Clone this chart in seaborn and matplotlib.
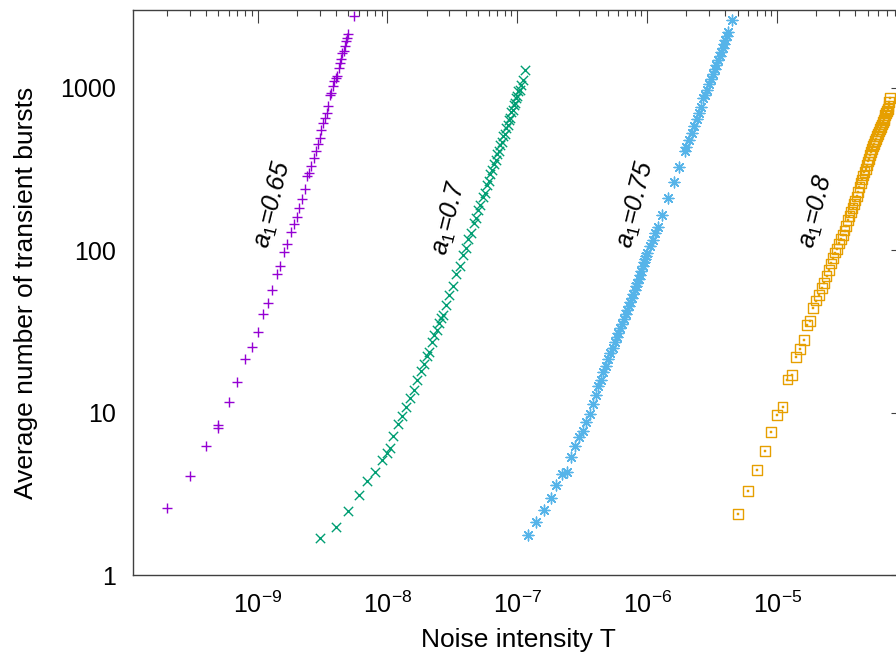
import matplotlib
matplotlib.use("Agg")
import matplotlib.pyplot as plt
import seaborn as sns
import pandas as pd
from matplotlib.ticker import LogLocator, FixedLocator, FixedFormatter, NullFormatter

# ---- data: average number of transient bursts vs noise intensity T ----
a065_T = [2e-10, 3e-10, 4e-10, 5e-10, 5e-10, 6e-10, 7e-10, 8e-10, 9e-10, 1.0e-9,
          1.1e-9, 1.2e-9, 1.3e-9, 1.4e-9, 1.5e-9, 1.6e-9, 1.7e-9, 1.8e-9, 1.9e-9, 2.0e-9,
          2.1e-9, 2.2e-9, 2.3e-9, 2.4e-9, 2.5e-9, 2.6e-9, 2.7e-9, 2.8e-9, 2.9e-9, 3.0e-9,
          3.1e-9, 3.2e-9, 3.3e-9, 3.4e-9, 3.5e-9, 3.6e-9, 3.7e-9, 3.8e-9, 3.9e-9, 4.0e-9,
          4.1e-9, 4.2e-9, 4.3e-9, 4.4e-9, 4.5e-9, 4.6e-9, 4.7e-9, 4.8e-9, 4.9e-9, 5.0e-9,
          5.5e-9]
a065_N = [2.6, 4.1, 6.2, 8.4, 8.1, 11.6, 15.5, 21.5, 25.3, 31.3,
          40.6, 47.3, 57, 71.6, 79.4, 98, 109, 129, 144, 160,
          182, 205, 239, 284, 300, 328, 370, 405, 447, 490,
          552, 607, 652, 700, 767, 906, 929, 1021, 1096, 1148,
          1175, 1324, 1422, 1489, 1637, 1675, 1799, 1932, 2023, 2123,
          2754]

a070_T = [3e-9, 4e-9, 5e-9, 6e-9, 7e-9, 8e-9, 9e-9, 1.0e-8, 1.05e-8,
          1.1e-8, 1.2e-8, 1.3e-8, 1.4e-8, 1.5e-8, 1.6e-8, 1.7e-8, 1.8e-8, 1.9e-8, 2.0e-8,
          2.1e-8, 2.2e-8, 2.3e-8, 2.4e-8, 2.5e-8, 2.6e-8, 2.7e-8, 2.8e-8,
          3.0e-8, 3.2e-8, 3.4e-8, 3.6e-8, 3.8e-8, 4.0e-8, 4.2e-8, 4.4e-8, 4.6e-8, 4.8e-8,
          5.0e-8, 5.2e-8, 5.4e-8, 5.6e-8, 5.8e-8, 6.0e-8, 6.2e-8, 6.4e-8, 6.6e-8, 6.8e-8,
          7.0e-8, 7.2e-8, 7.4e-8, 7.6e-8, 7.8e-8, 8.0e-8, 8.2e-8, 8.4e-8, 8.6e-8, 8.8e-8,
          9.0e-8, 9.2e-8, 9.4e-8, 9.6e-8, 9.8e-8, 1.0e-7, 1.02e-7, 1.04e-7, 1.06e-7,
          1.1e-7, 1.15e-7]
a070_N = [1.70, 1.98, 2.49, 3.12, 3.79, 4.33, 5.13, 5.64, 6.06,
          7.2, 8.55, 9.5, 10.9, 12.3, 13.7, 16.0, 18.0, 20.0, 22.2,
          23.8, 27.4, 30.2, 32.4, 35.6, 38.0, 40.1, 46.1,
          52.7, 60.5, 71.5, 80.0, 93.0, 103, 117, 128, 146, 157,
          176, 190, 212, 226, 251, 266, 292, 310, 340, 358,
          390, 408, 445, 462, 502, 520, 566, 585, 632, 650,
          705, 725, 782, 800, 860, 885, 950, 970, 1030,
          1110, 1290]

a075_T = [1.2e-7, 1.4e-7, 1.6e-7, 1.8e-7, 2.0e-7, 2.2e-7, 2.4e-7, 2.6e-7, 2.8e-7, 3.0e-7,
          3.2e-7, 3.4e-7, 3.6e-7, 3.8e-7, 4.0e-7, 4.2e-7, 4.4e-7, 4.6e-7, 4.8e-7, 5.0e-7,
          5.2e-7, 5.4e-7, 5.6e-7, 5.8e-7, 6.0e-7, 6.2e-7, 6.4e-7, 6.6e-7, 6.8e-7, 7.0e-7,
          7.2e-7, 7.4e-7, 7.6e-7, 7.8e-7, 8.0e-7, 8.2e-7, 8.4e-7, 8.6e-7, 8.8e-7, 9.0e-7,
          9.2e-7, 9.4e-7, 9.6e-7, 9.8e-7, 1.0e-6, 1.05e-6, 1.1e-6, 1.15e-6, 1.2e-6,
          1.3e-6, 1.45e-6, 1.6e-6, 1.75e-6, 1.95e-6,
          2.0e-6, 2.1e-6, 2.2e-6, 2.3e-6, 2.4e-6, 2.5e-6, 2.6e-6, 2.7e-6, 2.8e-6, 2.9e-6,
          3.0e-6, 3.1e-6, 3.2e-6, 3.3e-6, 3.4e-6, 3.5e-6, 3.6e-6, 3.7e-6, 3.8e-6, 3.9e-6,
          4.0e-6, 4.1e-6, 4.2e-6, 4.5e-6]
a075_N = [1.78, 2.13, 2.51, 2.99, 3.61, 4.22, 4.31, 5.37, 6.25, 7.13,
          7.76, 8.83, 9.89, 11.35, 12.9, 14.5, 16.0, 17.8, 19.5, 21.3,
          23.2, 25.1, 27.1, 29.2, 30.9, 33.1, 35.3, 37.8, 40.2, 42.7,
          45.3, 47.9, 50.8, 53.7, 56.9, 60.3, 63.1, 66.8, 70.5, 74.1,
          80.4, 84.1, 88.1, 91.8, 95.5, 106, 116, 127, 138,
          164, 209, 263, 324, 406,
          429, 476, 527, 584, 640, 701, 764, 860, 898, 968,
          1045, 1122, 1205, 1294, 1375, 1469, 1560, 1660, 1762, 1862,
          1968, 2083, 2193, 2600]

a080_T = [5e-6, 6e-6, 7e-6, 8e-6, 9e-6, 1.0e-5, 1.1e-5, 1.2e-5, 1.3e-5, 1.4e-5,
          1.5e-5, 1.6e-5, 1.7e-5, 1.8e-5, 1.9e-5, 2.0e-5, 2.1e-5, 2.2e-5, 2.3e-5, 2.4e-5,
          2.5e-5, 2.6e-5, 2.7e-5, 2.8e-5, 2.9e-5, 3.0e-5, 3.1e-5, 3.2e-5, 3.3e-5, 3.4e-5,
          3.5e-5, 3.6e-5, 3.7e-5, 3.8e-5, 3.9e-5, 4.0e-5, 4.1e-5, 4.2e-5, 4.3e-5, 4.4e-5,
          4.5e-5, 4.6e-5, 4.7e-5, 4.8e-5, 4.9e-5, 5.0e-5, 5.1e-5, 5.2e-5, 5.3e-5, 5.4e-5,
          5.5e-5, 5.6e-5, 5.7e-5, 5.8e-5, 5.9e-5, 6.0e-5, 6.1e-5, 6.2e-5, 6.3e-5, 6.4e-5,
          6.5e-5, 6.6e-5, 6.7e-5, 6.8e-5, 6.9e-5, 7.0e-5, 7.1e-5, 7.2e-5, 7.3e-5, 7.4e-5]
a080_N = [2.38, 3.3, 4.45, 5.8, 7.6, 9.7, 10.8, 16.0, 17.1, 22.0,
          24.6, 28.0, 34.8, 36.5, 44.2, 49.0, 53.1, 58.2, 63.1, 69.2,
          75.9, 82.8, 89.5, 96.6, 102, 110, 117, 124, 132, 141,
          153, 163, 172, 182, 192, 202, 214, 229, 245, 259,
          272, 288, 302, 316, 333, 351, 363, 385, 403, 419,
          435, 452, 468, 484, 501, 519, 537, 556, 575, 592,
          612, 631, 649, 676, 695, 716, 735, 767, 813, 865]

label_text = [r"$\mathit{a}_{\mathit{1}}$=0.65", r"$\mathit{a}_{\mathit{1}}$=0.7",
              r"$\mathit{a}_{\mathit{1}}$=0.75", r"$\mathit{a}_{\mathit{1}}$=0.8"]
label_pos_T = [1.32e-9, 3.03e-8, 8.2e-7, 2.02e-5]
label_pos_N = [191, 158, 191, 173]

x_ticks = [1e-9, 1e-8, 1e-7, 1e-6, 1e-5]
x_ticklabels = [r"$10^{-9}$", r"$10^{-8}$", r"$10^{-7}$", r"$10^{-6}$", r"$10^{-5}$"]
y_ticks = [1, 10, 100, 1000]
y_ticklabels = ["1", "10", "100", "1000"]

# ---- style ----
sns.set_theme(style="white")
plt.rcParams["font.family"] = ["Liberation Sans", "DejaVu Sans"]
plt.rcParams["mathtext.fontset"] = "custom"
plt.rcParams["mathtext.rm"] = "Liberation Sans"
plt.rcParams["mathtext.it"] = "Liberation Sans:italic"
plt.rcParams["mathtext.bf"] = "Liberation Sans:bold"
plt.rcParams["mathtext.sf"] = "Liberation Sans"
plt.rcParams["mathtext.default"] = "regular"
plt.rcParams["axes.unicode_minus"] = False

fig = plt.figure(figsize=(8.96, 6.55), dpi=100)
W, H = 896, 655
ax = fig.add_axes([133 / W, 1 - 575.3 / H, (903 - 133) / W, (575.3 - 10) / H])

purple = "#9400D3"
green = "#009E73"
blue = "#56B4E9"
orange = "#E69F00"

df065 = pd.DataFrame({"T": a065_T, "N": a065_N})
df070 = pd.DataFrame({"T": a070_T, "N": a070_N})
df075 = pd.DataFrame({"T": a075_T, "N": a075_N})
df080 = pd.DataFrame({"T": a080_T, "N": a080_N})

sns.scatterplot(data=df065, x="T", y="N", marker="+", s=50, color=purple,
                edgecolor=purple, linewidth=1.0, ax=ax, zorder=3)
sns.scatterplot(data=df070, x="T", y="N", marker="x", s=45, color=green,
                edgecolor=green, linewidth=1.0, ax=ax, zorder=3)
sns.scatterplot(data=df075, x="T", y="N", marker=(8, 2, 0), s=60, color=blue,
                edgecolor=blue, linewidth=1.0, ax=ax, zorder=3)
sns.scatterplot(data=df080, x="T", y="N", marker="s", s=50, facecolor="none",
                edgecolor=orange, linewidth=1.0, ax=ax, zorder=3)
sns.scatterplot(data=df080, x="T", y="N", marker="s", s=2, color=orange,
                edgecolor=orange, linewidth=0.3, ax=ax, zorder=3)

ax.set_xscale("log")
ax.set_yscale("log")
ax.set_xlim(1.1e-10, 9.3e-5)
ax.set_ylim(1, 3000)

for t, x, y in zip(label_text, label_pos_T, label_pos_N):
    ax.text(x, y, t, rotation=76, rotation_mode="anchor", ha="center", va="center",
            fontsize=18, fontstyle="italic", color="black", zorder=4)

# ---- axes, ticks ----
ax.xaxis.set_major_locator(FixedLocator(x_ticks))
ax.xaxis.set_major_formatter(FixedFormatter(x_ticklabels))
ax.xaxis.set_minor_locator(LogLocator(base=10, subs=range(2, 10), numticks=20))
ax.xaxis.set_minor_formatter(NullFormatter())
ax.yaxis.set_major_locator(FixedLocator(y_ticks))
ax.yaxis.set_major_formatter(FixedFormatter(y_ticklabels))
ax.yaxis.set_minor_locator(LogLocator(base=10, subs=range(2, 10), numticks=20))
ax.yaxis.set_minor_formatter(NullFormatter())

frame = "#404040"
for sp in ax.spines.values():
    sp.set_color(frame)
    sp.set_linewidth(1.0)
ax.tick_params(which="both", direction="in", top=True, right=True, color=frame,
               width=0.8, labelcolor="black", labelsize=18)
ax.tick_params(which="major", length=9, pad=12)
ax.tick_params(which="minor", length=4.5)

ax.set_xlabel("Noise intensity T", fontsize=19, labelpad=7, color="black")
ax.set_ylabel("Average number of transient bursts", fontsize=19, labelpad=16, color="black")

fig.savefig("out.png", dpi=100)
